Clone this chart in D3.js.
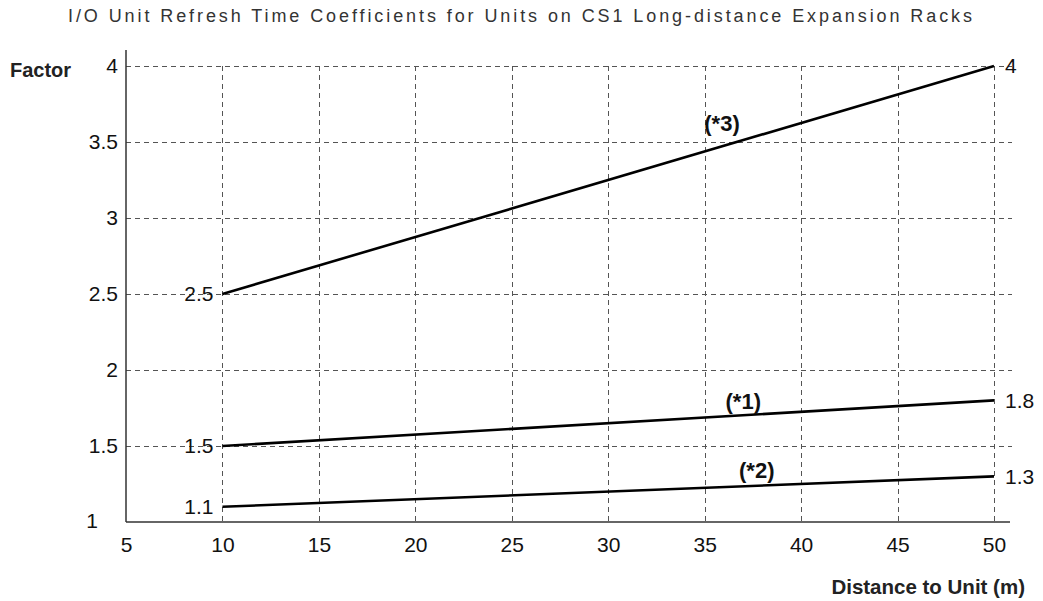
<!DOCTYPE html>
<html>
<head>
<meta charset="utf-8">
<script src="https://cdn.jsdelivr.net/npm/d3@7"></script>
<style>
  html, body { margin: 0; padding: 0; background: #fff; }
  svg { display: block; font-family: "Liberation Sans", Arial, Helvetica, sans-serif; }
</style>
</head>
<body>
<svg id="chart" width="1043" height="601"></svg>
<script>
// Refresh time coefficient vs. distance to the unit, for three rack conditions
const xTicks = [5, 10, 15, 20, 25, 30, 35, 40, 45, 50];
const yTicks = [1, 1.5, 2, 2.5, 3, 3.5, 4];
const yTickLabels = ["1", "1.5", "2", "2.5", "3", "3.5", "4"];

const seriesNames = ["(*3)", "(*1)", "(*2)"];
const distances = [10, 50];
const factors3 = [2.5, 4];
const factors1 = [1.5, 1.8];
const factors2 = [1.1, 1.3];
// where each series name sits along its line [distance, factor]
const nameAnchors = [[35.9, 3.625], [37.0, 1.796], [37.7, 1.342]];

const series = [
  { name: seriesNames[0], values: factors3, anchor: nameAnchors[0] },
  { name: seriesNames[1], values: factors1, anchor: nameAnchors[1] },
  { name: seriesNames[2], values: factors2, anchor: nameAnchors[2] }
];

const svg = d3.select("#chart");
const x = d3.scaleLinear().domain([5, 50]).range([126, 994]);
const y = d3.scaleLinear().domain([1, 4]).range([522, 66]);

// title (spread across the page width)
svg.append("text")
  .attr("x", 520).attr("y", 22)
  .attr("text-anchor", "middle")
  .attr("font-size", 18)
  .attr("fill", "#333")
  .attr("textLength", 904)
  .attr("lengthAdjust", "spacing")
  .text("I/O Unit Refresh Time Coefficients for Units on CS1 Long-distance Expansion Racks");

// dashed grid
const grid = svg.append("g").attr("stroke", "#555").attr("stroke-width", 1)
  .attr("stroke-dasharray", "5,4").attr("fill", "none");
grid.selectAll("line.h").data(yTicks.filter(d => d > 1)).join("line")
  .attr("class", "h")
  .attr("x1", x(5)).attr("x2", 1012)
  .attr("y1", d => Math.round(y(d)) + 0.5).attr("y2", d => Math.round(y(d)) + 0.5);
grid.selectAll("line.v").data(xTicks.filter(d => d > 5)).join("line")
  .attr("class", "v")
  .attr("y1", y(4)).attr("y2", y(1))
  .attr("x1", d => Math.round(x(d)) + 0.5).attr("x2", d => Math.round(x(d)) + 0.5);

// axes
const xAxis = d3.axisBottom(x).tickValues(xTicks).tickSize(0).tickPadding(15)
  .tickFormat(d3.format("d"));
const gx = svg.append("g").attr("transform", `translate(0,${y(1)})`).call(xAxis);
gx.select(".domain").remove();
gx.selectAll("text").attr("font-size", 21).attr("fill", "#111")
  .attr("font-family", "Liberation Sans, Arial, sans-serif");

const yAxis = d3.axisLeft(y).tickValues(yTicks).tickSize(0).tickPadding(8)
  .tickFormat((d, i) => yTickLabels[i]);
const gy = svg.append("g").attr("transform", `translate(${x(5)},0)`).call(yAxis);
gy.select(".domain").remove();
gy.selectAll("text").attr("font-size", 21).attr("fill", "#111")
  .attr("font-family", "Liberation Sans, Arial, sans-serif");
gy.selectAll(".tick").filter(d => d === 1).select("text").attr("dx", -20).attr("dy", "0.25em");

// axis lines
svg.append("line").attr("x1", x(5)).attr("x2", x(5)).attr("y1", 50).attr("y2", y(1))
  .attr("stroke", "#333").attr("stroke-width", 1.5);
svg.append("line").attr("x1", x(5)).attr("x2", 1010).attr("y1", y(1)).attr("y2", y(1))
  .attr("stroke", "#333").attr("stroke-width", 1.5);

// axis titles
svg.append("text").attr("x", 10).attr("y", 77)
  .attr("font-size", 20).attr("font-weight", "bold").attr("fill", "#222")
  .text("Factor");
svg.append("text").attr("x", 1025).attr("y", 594).attr("text-anchor", "end")
  .attr("font-size", 20.5).attr("font-weight", "bold").attr("fill", "#222")
  .text("Distance to Unit (m)");

// series lines
const line = d3.line().x((d, i) => x(distances[i])).y(d => y(d));
svg.append("g").selectAll("path").data(series).join("path")
  .attr("d", d => line(d.values))
  .attr("fill", "none").attr("stroke", "#000").attr("stroke-width", 2.6);

// end-point values
const ends = svg.append("g").attr("font-size", 21).attr("fill", "#111");
series.forEach(s => {
  ends.append("text").attr("x", x(distances[0]) - 9).attr("y", y(s.values[0]))
    .attr("dy", "0.35em").attr("text-anchor", "end").text(d3.format("")(s.values[0]));
  ends.append("text").attr("x", x(distances[1]) + 11).attr("y", y(s.values[1]))
    .attr("dy", "0.35em").attr("text-anchor", "start").text(d3.format("")(s.values[1]));
});

// series names
svg.append("g").selectAll("text").data(series).join("text")
  .attr("x", d => x(d.anchor[0])).attr("y", d => y(d.anchor[1]))
  .attr("dy", "0.35em").attr("text-anchor", "middle")
  .attr("font-size", 22).attr("font-weight", "bold").attr("fill", "#111")
  .text(d => d.name);
</script>
</body>
</html>
